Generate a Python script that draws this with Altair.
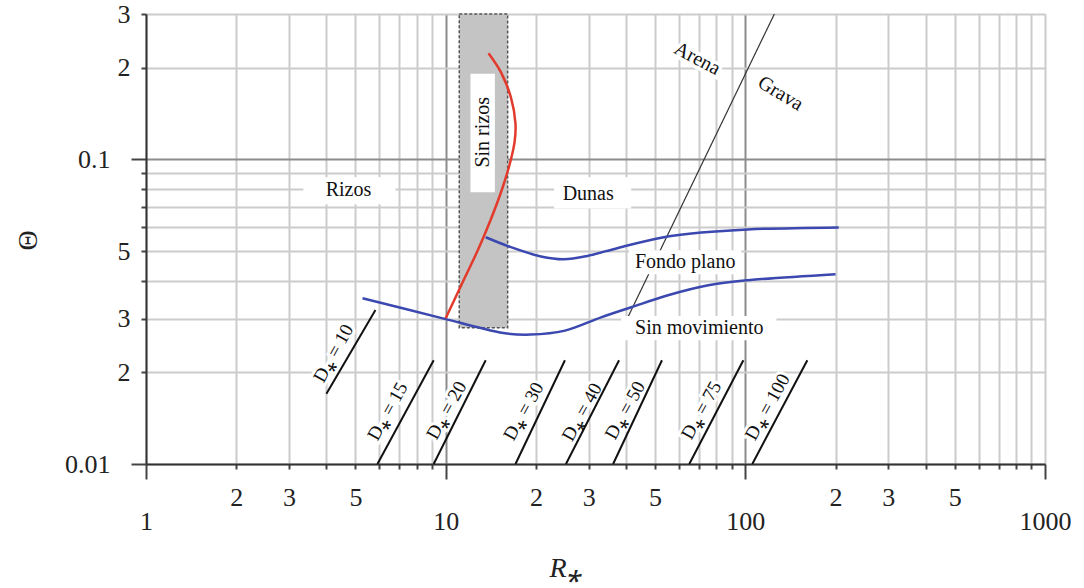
import altair as alt
import pandas as pd

FONT = "Liberation Serif"

# ---- data ----
red_x = [10, 11.56, 12.8, 14.1, 15.5, 16.5, 17.0, 17.1, 16.5, 15.3, 13.9]
red_y = [0.0301, 0.0407, 0.0503, 0.063, 0.081, 0.0997, 0.115, 0.131, 0.160, 0.193, 0.223]

up_x = [13.6, 16.5, 20.8, 24.8, 29.7, 37.6, 52.4, 71.3, 102, 205]
up_y = [0.0555, 0.0515, 0.0480, 0.0470, 0.0482, 0.0512, 0.0553, 0.0575, 0.0589, 0.0598]

lo_x = [5.28, 10, 12.8, 15.6, 19.2, 25, 33, 41.6, 55.2, 75.2, 102, 200]
lo_y = [0.035, 0.0299, 0.0281, 0.0269, 0.0266, 0.0274, 0.0303, 0.0327, 0.0358, 0.0386, 0.0401, 0.042]

arena_x = [39, 125]
arena_y = [0.028, 0.3]

ds_names = ["10", "15", "20", "30", "40", "50", "75", "100"]
ds_x0 = [4.00, 5.92, 9.12, 17.1, 25.2, 36.2, 65.0, 105.5]
ds_y0 = [0.0170, 0.01, 0.01, 0.01, 0.01, 0.01, 0.01, 0.01]
ds_x1 = [5.83, 9.12, 13.6, 25.0, 37.9, 52.7, 98.5, 161]
ds_y1 = [0.0320, 0.0219, 0.0219, 0.0219, 0.0219, 0.0219, 0.0219, 0.0219]
ds_lx = [4.22, 6.40, 10.07, 18.2, 28.5, 39.7, 71.3, 118.5]
ds_ly = [0.0231, 0.0149, 0.0150, 0.0149, 0.0148, 0.0150, 0.0150, 0.0154]

band_x = [11.1, 16.1]
band_y = [0.028, 0.3]

box_names = ["Rizos", "Dunas", "Fondo plano", "Sin movimiento", "Sin rizos"]
box_x1 = [3.35, 23.0, 40.9, 38.5, 12.1]
box_x2 = [6.80, 41.6, 97.0, 127, 14.6]
box_y1 = [0.0712, 0.069, 0.042, 0.0255, 0.078]
box_y2 = [0.0873, 0.0873, 0.0503, 0.0306, 0.191]
lab_x = [4.74, 29.9, 63.0, 70.2, 13.3]
lab_y = [0.0791, 0.0768, 0.0459, 0.0279, 0.1227]
lab_ang = [0, 0, 0, 0, 270]

rot_names = ["Arena", "Grava"]
rot_x = [69.1, 131]
rot_y = [0.214, 0.1646]
rot_ang = [28, 31]

x_ticks = [1, 2, 3, 4, 5, 6, 7, 8, 9, 10, 20, 30, 40, 50, 60, 70, 80, 90,
           100, 200, 300, 400, 500, 600, 700, 800, 900, 1000]
x_labels = {1: "1", 2: "2", 3: "3", 5: "5", 10: "10", 20: "2", 30: "3", 50: "5",
            100: "100", 200: "2", 300: "3", 500: "5", 1000: "1000"}
y_ticks = [0.01, 0.02, 0.03, 0.04, 0.05, 0.06, 0.07, 0.08, 0.09, 0.1, 0.2, 0.3]
y_labels = {0.01: "0.01", 0.02: "2", 0.03: "3", 0.05: "5", 0.1: "0.1", 0.2: "2", 0.3: "3"}

# ---- tables ----
red = pd.DataFrame({"x": red_x, "y": red_y, "i": range(len(red_x))})
upper = pd.DataFrame({"x": up_x, "y": up_y, "i": range(len(up_x))})
lower = pd.DataFrame({"x": lo_x, "y": lo_y, "i": range(len(lo_x))})
arena = pd.DataFrame({"x": arena_x, "y": arena_y})
ds_rows = []
for n, a, b, c, d in zip(ds_names, ds_x0, ds_y0, ds_x1, ds_y1):
    ds_rows.append({"d": n, "x": a, "y": b})
    ds_rows.append({"d": n, "x": c, "y": d})
dslines = pd.DataFrame(ds_rows)
dslabels = pd.DataFrame({"x": ds_lx, "y": ds_ly, "t": ["D\u204e = " + n for n in ds_names]})
band = pd.DataFrame({"x": [band_x[0]], "x2": [band_x[1]], "y": [band_y[0]], "y2": [band_y[1]]})
boxes = pd.DataFrame({"x": box_x1, "x2": box_x2, "y": box_y1, "y2": box_y2})
labels = pd.DataFrame({"x": lab_x, "y": lab_y, "t": box_names, "a": lab_ang})
rot = pd.DataFrame({"x": rot_x, "y": rot_y, "t": rot_names, "a": rot_ang})


def lab_expr(m):
    parts = [f"datum.value == {k} ? '{v}'" for k, v in m.items()]
    return " : ".join(parts) + " : ''"


x_major = "datum.value == 1 || datum.value == 10 || datum.value == 100 || datum.value == 1000"
y_major = "datum.value == 0.01 || datum.value == 0.1"

x_axis = alt.Axis(
    values=x_ticks, labelExpr=lab_expr(x_labels), labelOverlap=False,
    labelFont=FONT, labelFontSize=26, labelColor="#222", labelFlush=False,
    labelPadding={"condition": {"test": x_major, "value": 29}, "value": 15},
    tickSize={"condition": {"test": x_major, "value": 15}, "value": 5},
    tickColor="#444", tickWidth=2,
    domainColor="#333", domainWidth=2,
    gridColor={"condition": {"test": "datum.value == 10 || datum.value == 100", "value": "#8c8c8c"}, "value": "#cccccc"},
    gridWidth=2,
    title="R\u204e", titleFont=FONT, titleFontSize=28, titleFontStyle="italic", titleFontWeight="normal",
    titleColor="#222", titleX=419, titleY=104, titleBaseline="middle", titleAlign="center",
)
y_axis = alt.Axis(
    values=y_ticks, labelExpr=lab_expr(y_labels), labelOverlap=False,
    labelFont=FONT, labelFontSize=26, labelColor="#222", labelFlush=False,
    labelPadding={"condition": {"test": y_major, "value": 21}, "value": 11},
    tickSize={"condition": {"test": y_major, "value": 15}, "value": 5},
    tickColor="#444", tickWidth=2,
    domainColor="#333", domainWidth=2,
    gridColor={"condition": {"test": "datum.value == 0.1", "value": "#8c8c8c"}, "value": "#cccccc"},
    gridWidth=2,
    title="\u0398", titleFont=FONT, titleFontSize=28, titleFontWeight="normal", titleColor="#222",
    titleX=-118, titleY=226, titleBaseline="middle", titleAlign="center",
)

xs = alt.Scale(type="log", domain=[1, 1000], nice=False)
ys = alt.Scale(type="log", domain=[0.01, 0.3], nice=False)
X = alt.X("x:Q", scale=xs, axis=x_axis)
Y = alt.Y("y:Q", scale=ys, axis=y_axis)

band_l = alt.Chart(band).mark_rect(fill="#c4c4c4", stroke="#555", strokeDash=[3, 2], strokeWidth=1.5).encode(
    x=X, x2="x2:Q", y=Y, y2="y2:Q")
arena_l = alt.Chart(arena).mark_line(color="#333", strokeWidth=1.2, clip=True).encode(x=X, y=Y)
box_l = alt.Chart(boxes).mark_rect(fill="white").encode(x=X, x2="x2:Q", y=Y, y2="y2:Q")
lab_l = alt.Chart(labels).mark_text(font=FONT, fontSize=20, color="#111").encode(
    x=X, y=Y, text="t:N", angle=alt.Angle("a:Q", scale=None))
rot_halo = alt.Chart(rot).mark_text(font=FONT, fontSize=20, color="white", stroke="white", strokeWidth=7).encode(
    x=X, y=Y, text="t:N", angle=alt.Angle("a:Q", scale=None))
rot_l = alt.Chart(rot).mark_text(font=FONT, fontSize=20, color="#111").encode(
    x=X, y=Y, text="t:N", angle=alt.Angle("a:Q", scale=None))
ds_l = alt.Chart(dslines).mark_line(color="#111", strokeWidth=2).encode(x=X, y=Y, detail="d:N")
ds_halo = alt.Chart(dslabels).mark_text(font=FONT, fontSize=19, angle=299, color="white", stroke="white", strokeWidth=6).encode(
    x=X, y=Y, text="t:N")
ds_t = alt.Chart(dslabels).mark_text(font=FONT, fontSize=19, angle=299, color="#111").encode(
    x=X, y=Y, text="t:N")
up_l = alt.Chart(upper).mark_line(color="#3b48b0", strokeWidth=2.5, interpolate="catmull-rom").encode(
    x=X, y=Y, order="i:Q")
lo_l = alt.Chart(lower).mark_line(color="#3b48b0", strokeWidth=2.5, interpolate="catmull-rom").encode(
    x=X, y=Y, order="i:Q")
red_l = alt.Chart(red).mark_line(color="#e23a2c", strokeWidth=2.5, interpolate="catmull-rom").encode(
    x=X, y=Y, order="i:Q")

chart = alt.layer(
    band_l, arena_l, box_l, rot_halo, ds_halo, lab_l, rot_l, ds_l, ds_t, up_l, lo_l, red_l
).properties(
    width=899, height=450,
    padding={"left": 146, "top": 14, "right": 39, "bottom": 124},
    autosize=alt.AutoSizeParams(type="none"),
).configure_view(stroke="#333", strokeWidth=2).configure(background="white")

chart.save("out.html", embed_options={"renderer": "svg", "actions": False})
